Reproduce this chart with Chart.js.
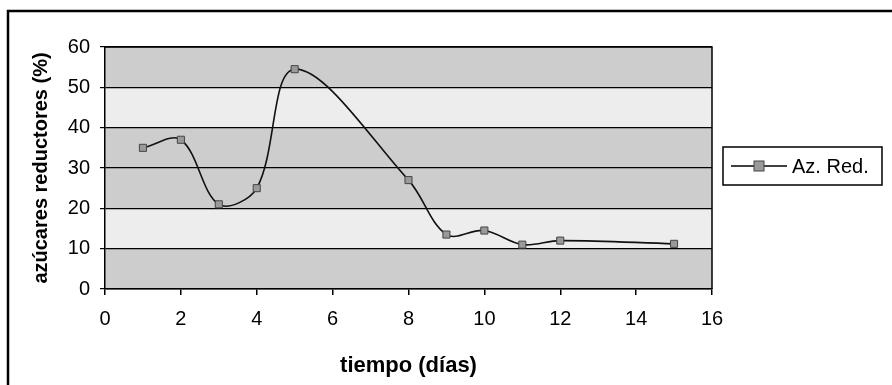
<!DOCTYPE html>
<html>
<head>
<meta charset="utf-8">
<script src="https://cdn.jsdelivr.net/npm/chart.js@4/dist/chart.umd.min.js"></script>
<style>
  html, body { margin: 0; padding: 0; background: #fff; }
</style>
</head>
<body>
<canvas id="chart" width="892" height="385"></canvas>
<script>
// datos
const dias = [1, 2, 3, 4, 5, 8, 9, 10, 11, 12, 15];
const azRed = [35, 37, 21, 25, 54.5, 27, 13.5, 14.5, 11, 12, 11.2];
const serieLabel = "Az. Red.";
const xTitle = "tiempo (días)";
const yTitle = "azúcares reductores (%)";
// franjas claras del fondo (de, hasta)
const lightBands = [[40, 50], [10, 20]];

const FONT = "'Liberation Sans', Arial, sans-serif";

const ctx = document.getElementById("chart").getContext("2d");

// fondo gris, marco exterior, borde del area y leyenda
const decor = {
    id: "decor",
    beforeDraw(chart) {
        const c = chart.ctx;
        const a = chart.chartArea;
        const y = chart.scales.y;
        c.save();
        c.fillStyle = "#fff";
        c.fillRect(0, 0, chart.width, chart.height);
        c.fillStyle = "#cdcdcd";
        c.fillRect(a.left, a.top, a.right - a.left, a.bottom - a.top);
        c.fillStyle = "#ededed";
        lightBands.forEach(b => {
            const y0 = y.getPixelForValue(b[1]);
            const y1 = y.getPixelForValue(b[0]);
            c.fillRect(a.left, y0, a.right - a.left, y1 - y0);
        });
        c.restore();
    },
    afterDraw(chart) {
        const c = chart.ctx;
        const a = chart.chartArea;
        c.save();
        // marco exterior
        c.strokeStyle = "#000";
        c.lineWidth = 2.5;
        c.strokeRect(8, 11, chart.width, chart.height);
        // borde derecho y superior del area
        c.lineWidth = 1.5;
        c.beginPath();
        c.moveTo(a.left, a.top);
        c.lineTo(a.right, a.top);
        c.lineTo(a.right, a.bottom);
        c.stroke();
        // leyenda
        const lx = 723, ly = 147, lw = 159, lh = 38;
        c.fillStyle = "#fff";
        c.fillRect(lx, ly, lw, lh);
        c.lineWidth = 1.5;
        c.strokeRect(lx, ly, lw, lh);
        const my = ly + lh / 2;
        c.beginPath();
        c.moveTo(lx + 8, my);
        c.lineTo(lx + 64, my);
        c.stroke();
        c.fillStyle = "#9a9a9a";
        c.fillRect(lx + 31, my - 5, 10, 10);
        c.strokeStyle = "#444";
        c.lineWidth = 1;
        c.strokeRect(lx + 31, my - 5, 10, 10);
        c.fillStyle = "#000";
        c.font = "20px " + FONT;
        c.textBaseline = "middle";
        c.textAlign = "left";
        c.fillText(chart.data.datasets[0].label, lx + 69, my + 1);
        c.restore();
    }
};

new Chart(ctx, {
    type: "line",
    data: {
        datasets: [{
            label: serieLabel,
            data: dias.map((d, i) => ({x: d, y: azRed[i]})),
            borderColor: "#111",
            borderWidth: 1.6,
            tension: 0.35,
            pointStyle: "rect",
            pointRadius: 5,
            pointBackgroundColor: "#9a9a9a",
            pointBorderColor: "#444",
            pointBorderWidth: 1
        }]
    },
    options: {
        responsive: false,
        animation: false,
        layout: {padding: {left: 10, right: 180, top: 47, bottom: 0}},
        plugins: {
            legend: {display: false},
            tooltip: {enabled: false}
        },
        scales: {
            x: {
                type: "linear",
                min: 0,
                max: 16,
                afterFit: s => { s.height = 96; },
                ticks: {stepSize: 2, color: "#000", font: {family: FONT, size: 20}, padding: 12},
                grid: {drawOnChartArea: false, color: "#000", tickLength: 6, lineWidth: 1.5},
                border: {color: "#000", width: 1.5},
                title: {
                    display: true,
                    text: xTitle,
                    color: "#000",
                    font: {family: FONT, size: 22, weight: "bold"},
                    padding: {top: 0, bottom: 6}
                }
            },
            y: {
                min: 0,
                max: 60,
                afterFit: s => { s.width = 95; },
                ticks: {stepSize: 10, color: "#000", font: {family: FONT, size: 20}, padding: 10},
                grid: {color: "#000", tickLength: 5, lineWidth: 1.2},
                border: {color: "#000", width: 1.5},
                title: {
                    display: true,
                    text: yTitle,
                    color: "#000",
                    font: {family: FONT, size: 20, weight: "bold"},
                    padding: {top: 19, bottom: 0}
                }
            }
        }
    },
    plugins: [decor]
});
</script>
</body>
</html>
